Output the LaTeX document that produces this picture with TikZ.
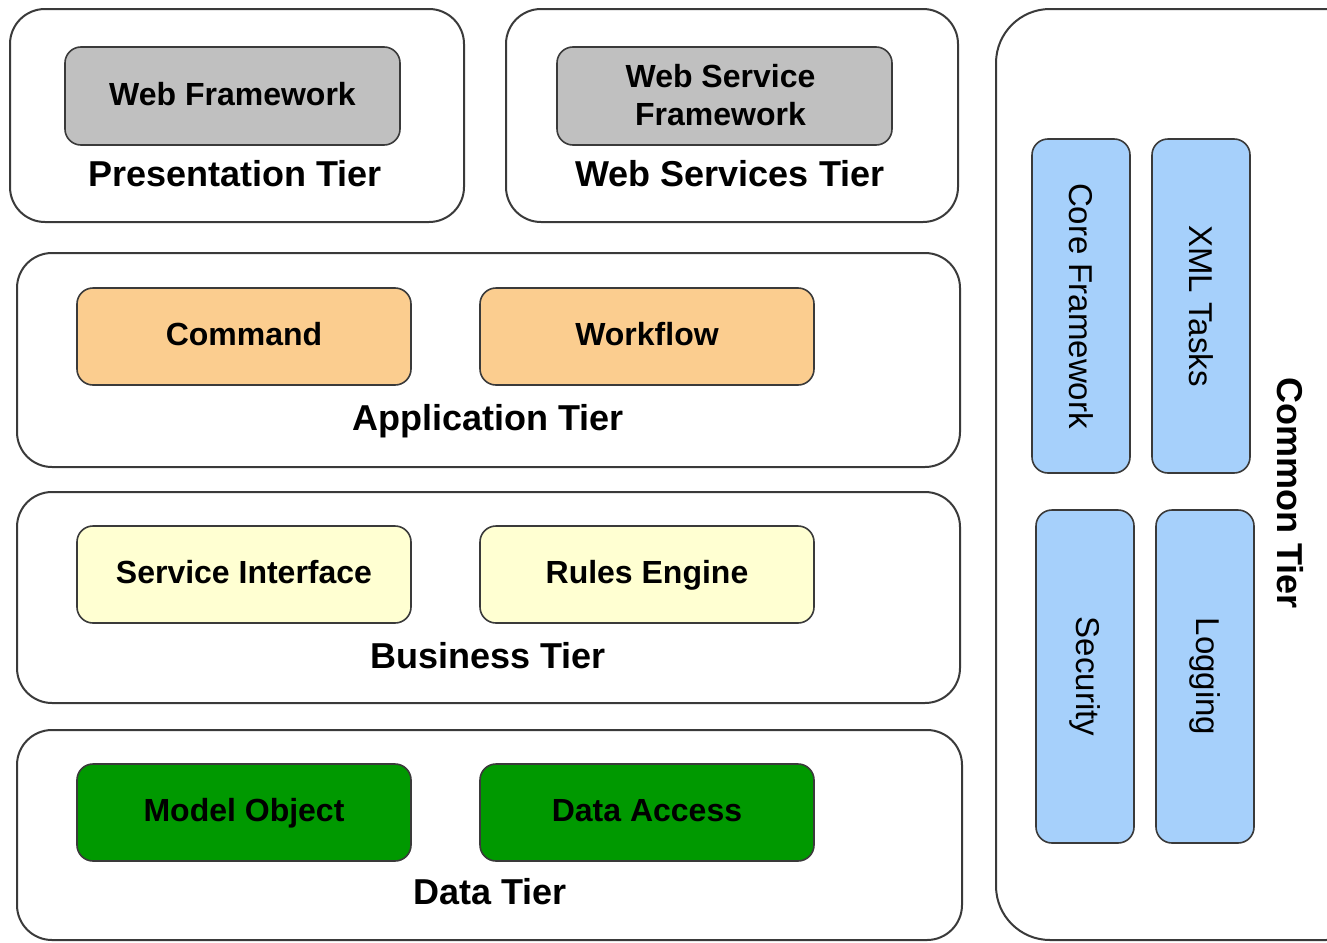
\documentclass[tikz,border=0pt]{standalone}
\usepackage{fontspec}
\setmainfont{Liberation Sans}
\usetikzlibrary{fit}
\definecolor{edge}{HTML}{3A3A3A}
\definecolor{grayfill}{HTML}{C0C0C0}
\definecolor{appfill}{HTML}{FBCD8F}
\definecolor{busfill}{HTML}{FFFFD2}
\definecolor{datafill}{HTML}{009900}
\definecolor{commonfill}{HTML}{A6D0FB}
\begin{document}
\begin{tikzpicture}[x=0.5pt,y=-0.5pt,
  tier/.style={draw=edge, line width=1pt, rounded corners=17.5pt, inner sep=0pt, fill=white},
  commonbox/.style={tier, rounded corners=27pt},
  part/.style={draw=edge, line width=0.8pt, rounded corners=8pt, inner sep=0pt},
  parttext/.style={font=\bfseries\fontsize{16pt}{19pt}\selectfont, align=center,
    inner sep=0pt, text height=0.72em, text depth=0pt},
  tierlabel/.style={font=\bfseries\fontsize{18pt}{21pt}\selectfont, anchor=base},
  sidelabel/.style={font=\fontsize{16.5pt}{19pt}\selectfont, rotate=-90},
]
\path[use as bounding box] (0,0) rectangle (1327,942);
\clip (0,0) rectangle (1327,942);

% Presentation tier
\node[tier, fit={(10,9) (464,222)}] (pres) {};
\node[part, fill=grayfill, fit={(65,47) (400,145)}] (webfw) {};
\node[parttext] (webfwlbl) at ([yshift=-1pt]webfw.center) {Web Framework};
\node[tierlabel] (preslbl) at (235,186) {Presentation Tier};

% Web services tier
\node[tier, fit={(506,9) (958,222)}] (ws) {};
\node[part, fill=grayfill, fit={(557,47) (892,145)}] (wsfw) {};
\node[font=\bfseries\fontsize{16pt}{19pt}\selectfont, align=center, inner sep=0pt]
  (wsfwlbl) at ([xshift=-2pt, yshift=0.5pt]wsfw.center) {Web Service\\Framework};
\node[tierlabel] (wslbl) at (730,186) {Web Services Tier};

% Application tier
\node[tier, fit={(17,253) (960,467)}] (app) {};
\node[part, fill=appfill, fit={(77,288) (411,385)}] (command) {};
\node[part, fill=appfill, fit={(480,288) (814,385)}] (workflow) {};
\node[parttext] (commandlbl) at ([yshift=-1pt]command.center) {Command};
\node[parttext] (workflowlbl) at ([yshift=-1pt]workflow.center) {Workflow};
\node[tierlabel] (applbl) at (488,430) {Application Tier};

% Business tier
\node[tier, fit={(17,492) (960,703)}] (bus) {};
\node[part, fill=busfill, fit={(77,526) (411,623)}] (svcif) {};
\node[part, fill=busfill, fit={(480,526) (814,623)}] (rules) {};
\node[parttext] (svciflbl) at ([yshift=-1pt]svcif.center) {Service Interface};
\node[parttext] (ruleslbl) at ([yshift=-1pt]rules.center) {Rules Engine};
\node[tierlabel] (buslbl) at (488,668) {Business Tier};

% Data tier
\node[tier, fit={(17,730) (962,940)}] (data) {};
\node[part, fill=datafill, fit={(77,764) (411,861)}] (model) {};
\node[part, fill=datafill, fit={(480,764) (814,861)}] (access) {};
\node[parttext] (modellbl) at ([yshift=-1pt]model.center) {Model Object};
\node[parttext] (accesslbl) at ([yshift=-1pt]access.center) {Data Access};
\node[tierlabel] (datalbl) at (490,904) {Data Tier};

% Common tier, running off the right edge
\node[commonbox, fit={(996,9) (1380,940)}] (common) {};
\node[part, fill=commonfill, fit={(1032,139) (1130,473)}] (core) {};
\node[part, fill=commonfill, fit={(1152,139) (1250,473)}] (xml) {};
\node[part, fill=commonfill, fit={(1036,510) (1134,843)}] (sec) {};
\node[part, fill=commonfill, fit={(1156,510) (1254,843)}] (log) {};
\node[sidelabel] (corelbl) at (core.center) {Core Framework};
\node[sidelabel] (xmllbl) at (xml.center) {XML Tasks};
\node[sidelabel] (seclbl) at (sec.center) {Security};
\node[sidelabel] (loglbl) at (log.center) {Logging};
\node[font=\bfseries\fontsize{18pt}{21pt}\selectfont, rotate=-90] (commonlbl) at (1290,493) {Common Tier};
\end{tikzpicture}
\end{document}
